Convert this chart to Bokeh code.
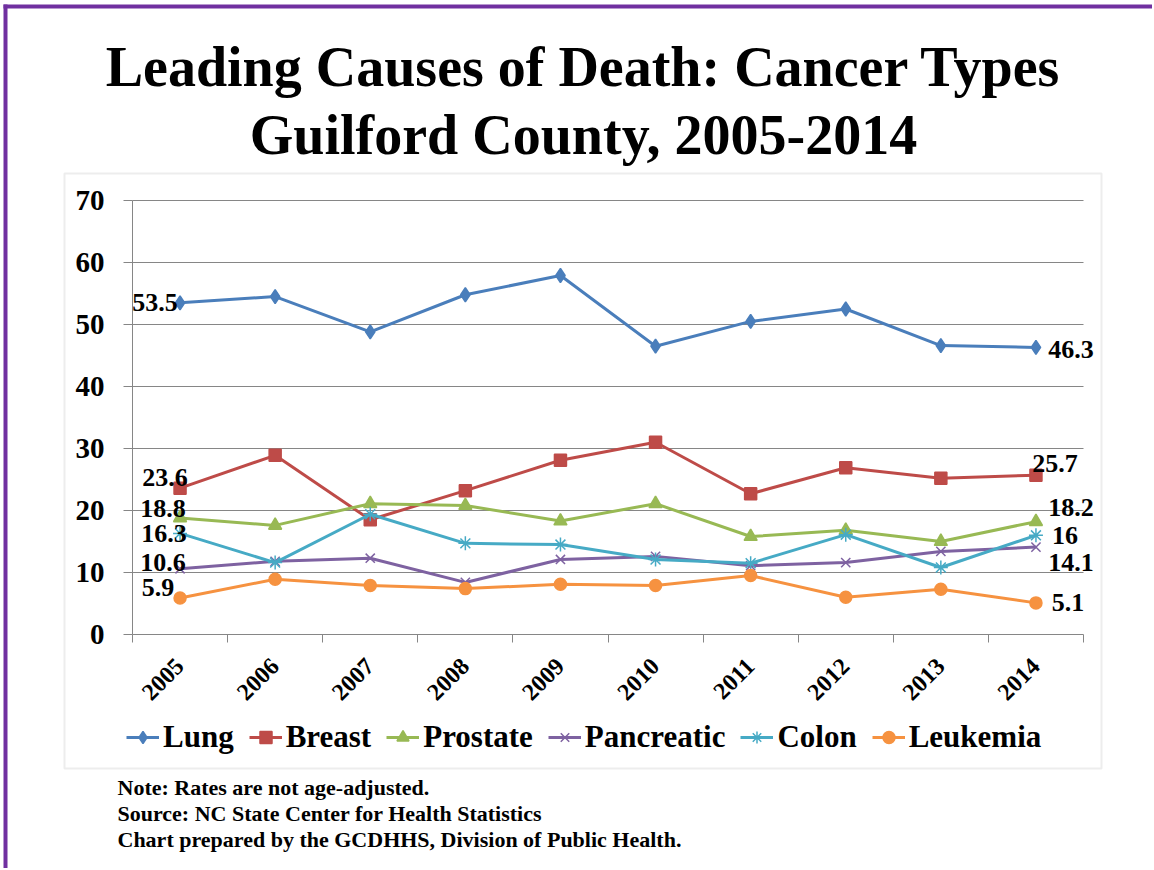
import math
from bokeh.plotting import figure
from bokeh.models import (Range1d, FixedTicker, Label, Legend, LegendItem,
                          BoxAnnotation)
from bokeh.embed import file_html
from bokeh.resources import INLINE

# ---------------- data ----------------
years = ["2005", "2006", "2007", "2008", "2009", "2010", "2011", "2012", "2013", "2014"]
lung = [53.5, 54.5, 48.8, 54.8, 57.9, 46.5, 50.5, 52.5, 46.6, 46.3]
breast = [23.6, 28.9, 18.5, 23.2, 28.1, 31.0, 22.7, 26.9, 25.2, 25.7]
prostate = [18.8, 17.6, 21.1, 20.8, 18.3, 21.1, 15.8, 16.8, 15.0, 18.2]
pancreatic = [10.6, 11.8, 12.3, 8.4, 12.1, 12.6, 11.1, 11.6, 13.4, 14.1]
colon = [16.3, 11.6, 19.4, 14.7, 14.5, 12.1, 11.5, 16.1, 10.8, 16.0]
leukemia = [5.9, 8.9, 7.9, 7.4, 8.1, 7.9, 9.5, 6.0, 7.3, 5.1]
series_names = ["Lung", "Breast", "Prostate", "Pancreatic", "Colon", "Leukemia"]
y_ticks = [0, 10, 20, 30, 40, 50, 60, 70]

title_line1 = "Leading Causes of Death: Cancer Types"
title_line2 = "Guilford County, 2005-2014"
notes = ["Note: Rates are not age-adjusted.",
         "Source: NC State Center for Health Statistics",
         "Chart prepared by the GCDHHS, Division of Public Health."]

series = [lung, breast, prostate, pancreatic, colon, leukemia]
colors = ["#4A7EBB", "#BE4B48", "#98B954", "#7E62A1", "#46AAC5", "#F69240"]
markers = ["diamond", "square", "triangle", "x", "asterisk", "circle"]
msizes = [14, 12, 13, 13, 14, 12]

# ---------------- layout ----------------
W, H = 1152, 868
PL, PR, PT, PB = 132, 1083, 200, 634  # plot area in page px
SERIF = "Liberation Serif"
NX = len(years)
XS = (PR - PL) / NX           # px per category
YS = (PB - PT) / 70.0         # px per unit


def dx(px):
    return -0.5 + (px - PL) / XS


def dy(py):
    return (PB - py) / YS


# frame covers the whole canvas; axes are pinned with fixed_location
p = figure(width=W, height=H, output_backend="svg", toolbar_location=None,
           x_range=Range1d(dx(0), dx(W)), y_range=Range1d(dy(H), dy(0)),
           min_border=0)
p.outline_line_color = None
p.background_fill_color = "white"
p.border_fill_color = "white"
p.xgrid.grid_line_color = None
p.ygrid.grid_line_color = None

# gray chart box and purple slide border
p.add_layout(BoxAnnotation(left=dx(64), right=dx(1101), top=dy(173), bottom=dy(768),
                           fill_color=None, line_color="#C4C4C4", line_width=2,
                           level="underlay"))
p.add_layout(BoxAnnotation(left=dx(3), right=dx(7), top=dy(4), bottom=dy(H + 5),
                           fill_color="#7030A0", fill_alpha=1, line_color=None))
p.add_layout(BoxAnnotation(left=dx(3), right=dx(W + 5), top=dy(4), bottom=dy(8),
                           fill_color="#7030A0", fill_alpha=1, line_color=None))

# horizontal gridlines limited to the plot area
gy = [t for t in y_ticks if t > 0]
p.segment(x0=[-0.5] * len(gy), x1=[NX - 0.5] * len(gy), y0=gy, y1=gy,
          line_color="#868686", line_width=1, level="underlay")

xs = list(range(NX))
xa = p.xaxis[0]
xa.fixed_location = 0
xa.bounds = (-0.5, NX - 0.5)
xa.ticker = FixedTicker(ticks=xs, minor_ticks=[i - 0.5 for i in range(NX + 1)])
xa.major_label_overrides = {i: y for i, y in enumerate(years)}
xa.major_label_orientation = math.pi / 4
xa.major_tick_line_color = None
xa.minor_tick_line_color = "#868686"
xa.minor_tick_out = 8
xa.minor_tick_in = 0
xa.axis_line_color = "#868686"
xa.major_label_text_font = SERIF
xa.major_label_text_font_style = "bold"
xa.major_label_text_font_size = "24px"
xa.major_label_text_color = "black"
xa.major_label_standoff = 20

ya = p.yaxis[0]
ya.fixed_location = -0.5
ya.bounds = (0, 70)
ya.ticker = FixedTicker(ticks=y_ticks)
ya.minor_tick_line_color = None
ya.major_tick_line_color = "#868686"
ya.major_tick_out = 9
ya.major_tick_in = 0
ya.axis_line_color = "#868686"
ya.major_label_text_font = SERIF
ya.major_label_text_font_style = "bold"
ya.major_label_text_font_size = "29px"
ya.major_label_text_color = "black"
ya.major_label_standoff = 19

items = []
for name, vals, c, m, ms in zip(series_names, series, colors, markers, msizes):
    lr = p.line(xs, vals, line_color=c, line_width=3)
    sr = p.scatter(xs, vals, marker=m, size=ms, fill_color=c, line_color=c,
                   line_width=1.5)
    items.append(LegendItem(label=name, renderers=[lr, sr]))

# data labels on first and last point (offsets in px, + = right / up)
first_off = [(-25, 0), (-15, 11), (-17, 9), (-17, 6), (-16, 0), (-22, 10)]
last_off = [(35, -2), (19, 12), (35, 14), (35, -15), (29, 0), (32, 0)]
for vals, fo, lo in zip(series, first_off, last_off):
    for idx, off in [(0, fo), (NX - 1, lo)]:
        p.add_layout(Label(x=idx, y=vals[idx], x_offset=off[0], y_offset=off[1],
                           text=f"{vals[idx]:g}", text_font=SERIF,
                           text_font_style="bold", text_font_size="26px",
                           text_align="center", text_baseline="middle",
                           text_color="black"))

legend = Legend(items=items, orientation="horizontal",
                label_text_font=SERIF, label_text_font_style="bold",
                label_text_font_size="31px", label_text_color="black",
                glyph_width=33, glyph_height=30,
                label_standoff=4, spacing=15, padding=4, margin=0,
                border_line_color=None, background_fill_alpha=0,
                location=(126, H - 755))
p.add_layout(legend, "center")

# titles
for txt, cy in [(title_line1, 66), (title_line2, 134)]:
    p.add_layout(Label(x=dx(583), y=dy(cy), text=txt, text_font=SERIF,
                       text_font_style="bold", text_font_size="56px",
                       text_align="center", text_baseline="middle",
                       text_color="black"))

for txt, cy in zip(notes, [787, 813, 839]):
    p.add_layout(Label(x=dx(117), y=dy(cy), text=txt, text_font=SERIF,
                       text_font_style="bold", text_font_size="22px",
                       text_align="left", text_baseline="middle",
                       text_color="black"))

open("out.html", "w").write(file_html(p, INLINE))
